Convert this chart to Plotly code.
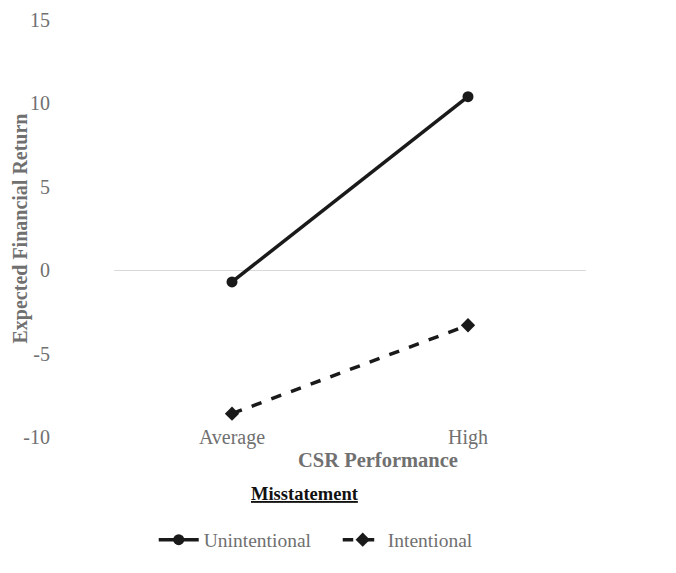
import plotly.graph_objects as go

categories = ["Average", "High"]
unintentional = [-0.7, 10.4]
intentional = [-8.6, -3.3]
y_ticks = [-10, -5, 0, 5, 10, 15]
y_tick_text = ["-10", "-5", "0", "5", "10", "15"]

FONT = "Liberation Serif"
GRAY = "#707070"

fig = go.Figure()
fig.add_trace(go.Scatter(
    x=categories, y=unintentional, name="Unintentional", mode="lines+markers",
    line=dict(color="#1a1a1a", width=3.5),
    marker=dict(symbol="circle", size=11, color="#1a1a1a"),
))
fig.add_trace(go.Scatter(
    x=categories, y=intentional, name="Intentional", mode="lines+markers",
    line=dict(color="#1a1a1a", width=3.5, dash="dash"),
    marker=dict(symbol="diamond", size=11, color="#1a1a1a"),
))

fig.update_layout(
    width=676, height=573,
    margin=dict(l=106, r=98, t=12, b=144, autoexpand=False),
    paper_bgcolor="white", plot_bgcolor="white",
    font=dict(family=FONT, size=20, color=GRAY),
    showlegend=True,
    legend=dict(
        orientation="h", x=0.474, xanchor="center", y=-0.247, yanchor="middle",
        font=dict(family=FONT, size=19.5, color=GRAY),
        itemwidth=40, entrywidth=129,
        bgcolor="rgba(0,0,0,0)",
    ),
    xaxis=dict(
        type="category", range=[-0.5, 1.5], showgrid=False, zeroline=False,
        showline=False, ticks="", automargin=False, ticklabelstandoff=-14,
        tickfont=dict(family=FONT, size=20, color=GRAY),
    ),
    yaxis=dict(
        range=[-10, 15], tickvals=y_ticks, ticktext=y_tick_text, showgrid=False,
        zeroline=True, zerolinecolor="#d9d9d9", zerolinewidth=1,
        showline=False, ticks="", ticklabelstandoff=63, automargin=False,
        tickfont=dict(family=FONT, size=20, color=GRAY),
    ),
    annotations=[
        dict(text="<b>Expected Financial Return</b>", textangle=-90,
             xref="paper", yref="paper", x=0, y=0.5, xanchor="center",
             yanchor="middle", xshift=-94, showarrow=False,
             font=dict(family=FONT, size=20, color=GRAY)),
        dict(text="<b>CSR Performance</b>",
             xref="paper", yref="paper", x=0.559, y=-0.055, xanchor="center",
             yanchor="middle", showarrow=False,
             font=dict(family=FONT, size=20.5, color=GRAY)),
        dict(text="<u><b>Misstatement</b></u>",
             xref="paper", yref="paper", x=0.405, y=-0.137, xanchor="center",
             yanchor="middle", showarrow=False,
             font=dict(family=FONT, size=18.5, color="#111111")),
    ],
)

fig.write_html("out.html")
